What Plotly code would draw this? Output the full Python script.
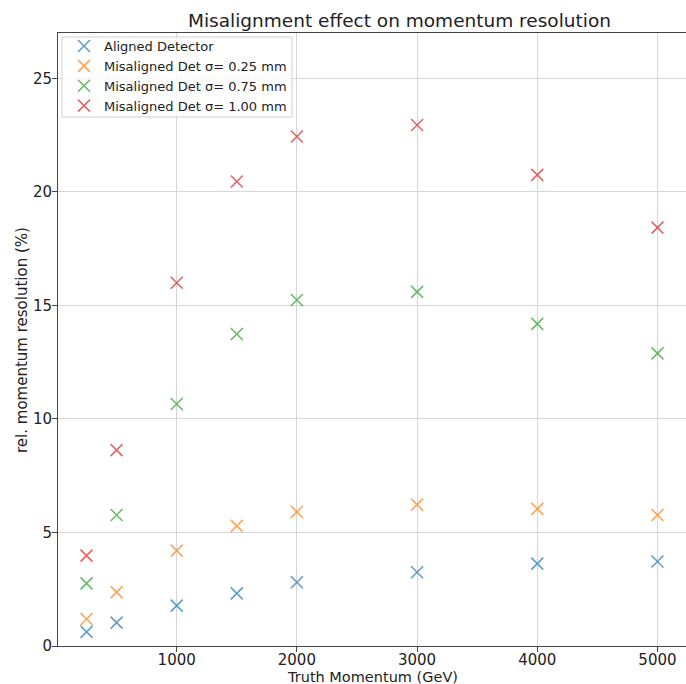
import plotly.graph_objects as go

momentum = [250, 500, 1000, 1500, 2000, 3000, 4000, 5000]
aligned = [0.62, 1.03, 1.78, 2.32, 2.81, 3.25, 3.63, 3.72]
mis_025 = [1.19, 2.37, 4.20, 5.29, 5.91, 6.23, 6.04, 5.77]
mis_075 = [2.76, 5.77, 10.66, 13.74, 15.24, 15.60, 14.19, 12.89]
mis_100 = [3.98, 8.63, 16.00, 20.46, 22.44, 22.95, 20.75, 18.43]

series_names = ["Aligned Detector", "Misaligned Det σ= 0.25 mm",
                "Misaligned Det σ= 0.75 mm", "Misaligned Det σ= 1.00 mm"]
series_values = [aligned, mis_025, mis_075, mis_100]
colors = ["#1f77b4", "#ff7f0e", "#2ca02c", "#d62728"]

x_ticks = [1000, 2000, 3000, 4000, 5000]
y_ticks = [0, 5, 10, 15, 20, 25]

W, H = 686, 684
L, R, T, B = 58, 0, 33, 38
pw, ph = W - L - R, H - T - B


def px_x(px):
    return (px - L) / pw


def px_y(py):
    return (H - B - py) / ph


fig = go.Figure()
for name, vals, c in zip(series_names, series_values, colors):
    fig.add_trace(go.Scatter(
        x=momentum, y=vals, mode="markers", name=name,
        marker=dict(symbol="x-thin", size=12, opacity=0.7,
                    line=dict(color=c, width=1.6), color=c),
    ))

font = "DejaVu Sans, sans-serif"
axis_common = dict(
    showline=True, mirror=True, linecolor="#444", linewidth=1,
    showgrid=True, gridcolor="#d6d6d6", gridwidth=1,
    ticks="outside", ticklen=5, tickcolor="#444", tickwidth=1,
    zeroline=False, tickfont=dict(family=font, size=15, color="#222"),
)

fig.update_layout(
    width=W, height=H,
    margin=dict(l=L, r=R, t=T, b=B),
    paper_bgcolor="white", plot_bgcolor="white",
    font=dict(family=font, color="#222"),
    title=dict(text="Misalignment effect on momentum resolution",
               x=373 / W, xanchor="center", xref="paper",
               y=1 - 20.5 / H, yanchor="middle",
               font=dict(family=font, size=18.5, color="#222")),
    xaxis=dict(range=[12.5, 5237.5], tickvals=x_ticks,
               ticklabelstandoff=-5, **axis_common),
    yaxis=dict(range=[0, 27], tickvals=y_ticks,
               ticklabelstandoff=-3, **axis_common),
    legend=dict(x=px_x(64), y=px_y(31), xanchor="left", yanchor="top",
                bgcolor="rgba(0,0,0,0)", borderwidth=0,
                font=dict(family=font, size=13, color="#222"),
                tracegroupgap=0, itemwidth=30),
    showlegend=True,
    shapes=[dict(type="rect", xref="paper", yref="paper",
                 x0=px_x(62), x1=px_x(292), y0=px_y(117), y1=px_y(37),
                 fillcolor="rgba(255,255,255,0.8)", layer="above",
                 line=dict(color="#d0d0d0", width=1))],
    annotations=[
        dict(text="Truth Momentum (GeV)", xref="paper", yref="paper",
             x=px_x(372), y=px_y(677), xanchor="center", yanchor="middle",
             showarrow=False, font=dict(family=font, size=14.5, color="#222")),
        dict(text="rel. momentum resolution (%)", xref="paper", yref="paper",
             x=px_x(22), y=px_y(340), xanchor="center", yanchor="middle",
             textangle=-90, showarrow=False,
             font=dict(family=font, size=15, color="#222")),
    ],
)

fig.write_html("out.html")
